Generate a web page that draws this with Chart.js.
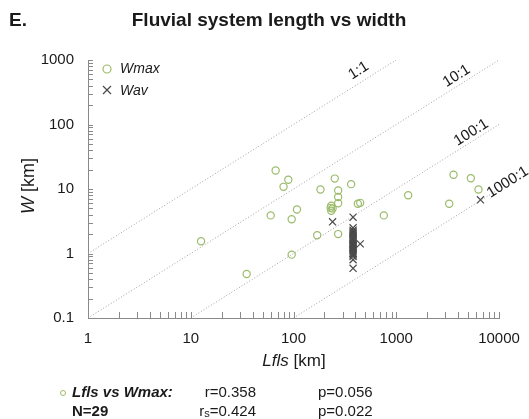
<!DOCTYPE html>
<html>
<head>
<meta charset="utf-8">
<script src="https://cdn.jsdelivr.net/npm/chart.js@4/dist/chart.umd.min.js"></script>
<style>
  html, body { margin: 0; padding: 0; background: #fff; }
  canvas { display: block; }
</style>
</head>
<body>
<canvas id="chart" width="529" height="419"></canvas>
<script>
// Lfls vs Wmax (circles)
const lengthWmax = [12.6, 35, 60, 67, 80, 89, 96, 96, 108, 170, 183, 233, 230, 240, 233, 252, 272, 272, 272, 272, 364, 423, 446, 757, 1307, 3275, 3608, 5320, 6315];
const widthWmax  = [1.55, 0.48, 3.9, 19.4, 10.8, 13.9, 3.4, 0.96, 4.8, 1.92, 9.8, 5.5, 5.1, 5.0, 4.6, 14.5, 9.5, 7.5, 6.0, 2.0, 11.9, 5.9, 6.1, 3.9, 8.0, 5.9, 16.6, 14.7, 9.8];

// Lfls vs Wav (crosses)
const lengthWav = [240, 446, 6600, 380, 380, 380, 380, 380, 380, 380, 380, 380, 380, 380, 380, 380, 380, 380, 380, 380, 380, 380, 380, 380, 380, 380, 380, 380, 380];
const widthWav  = [3.1, 1.41, 6.8, 3.65, 2.5, 2.3, 2.2, 2.1, 2.0, 1.9, 1.8, 1.7, 1.65, 1.6, 1.5, 1.45, 1.4, 1.35, 1.3, 1.25, 1.2, 1.15, 1.1, 1.05, 1.0, 0.95, 0.9, 0.8, 0.59];

// ratio reference lines L:W
const ratioNames = ['1:1', '10:1', '100:1', '1000:1'];
const ratioValues = [1, 10, 100, 1000];
const ratioStartL = [1, 1, 10, 100];
const ratioEndL = [1000, 10000, 10000, 10000];

const xTicks = [1, 10, 100, 1000, 10000];
const xTickLabels = ['1', '10', '100', '1000', '10000'];
const yTicks = [0.1, 1, 10, 100, 1000];
const yTickLabels = ['0.1', '1', '10', '100', '1000'];

const FONT = '"Liberation Sans", Arial, sans-serif';
const GREEN = '#9bbb6b';
const CROSS = '#4a4a4a';
const AXIS = '#8a8a8a';

function toPoints(xs, ys) {
  return xs.map((x, i) => ({ x: x, y: ys[i] }));
}

const ratioSets = ratioValues.map((r, i) => ({
  label: ratioNames[i],
  data: [
    { x: ratioStartL[i], y: ratioStartL[i] / r },
    { x: ratioEndL[i], y: ratioEndL[i] / r }
  ],
  showLine: true,
  borderColor: '#a0a0a0',
  borderWidth: 1,
  borderDash: [1, 2],
  pointRadius: 0
}));

// write text made of several styled pieces
function drawParts(c, parts, x, y, align) {
  let total = 0;
  parts.forEach(p => { c.font = p.f; total += c.measureText(p.t).width; });
  let cx = align === 'right' ? x - total : align === 'center' ? x - total / 2 : x;
  parts.forEach(p => {
    c.font = p.f;
    c.fillText(p.t, cx, y + (p.dy || 0));
    cx += c.measureText(p.t).width;
  });
}

const decor = {
  id: 'decor',
  afterDraw(chart) {
    const c = chart.ctx;
    const xs = chart.scales.x, ys = chart.scales.y, a = chart.chartArea;
    c.save();

    // inner tick marks
    c.strokeStyle = AXIS;
    c.lineWidth = 1;
    c.beginPath();
    for (let d = 0; d < xTicks.length - 1; d++) {
      for (let m = 1; m <= 10; m++) {
        const px = Math.round(xs.getPixelForValue(xTicks[d] * m)) + 0.5;
        c.moveTo(px, a.bottom);
        c.lineTo(px, a.bottom - 6);
      }
    }
    for (let d = 0; d < yTicks.length - 1; d++) {
      for (let m = 1; m <= 10; m++) {
        const py = Math.round(ys.getPixelForValue(yTicks[d] * m)) + 0.5;
        c.moveTo(a.left, py);
        c.lineTo(a.left + 5, py);
      }
    }
    c.stroke();

    c.fillStyle = '#1a1a1a';
    c.textBaseline = 'middle';

    // heading
    c.textAlign = 'left';
    c.font = 'bold 19px ' + FONT;
    c.fillText('E.', 9, 21);
    c.textAlign = 'center';
    c.fillText('Fluvial system length vs width', 269, 21);

    // ratio labels along the lines
    const ang = Math.atan2(ys.getPixelForValue(1) - ys.getPixelForValue(10), xs.getPixelForValue(10) - xs.getPixelForValue(1));
    const anchorsL = [490, 4300, 5900, 12300];
    const offsets = [11, 9, 8, 1];
    c.font = '15px ' + FONT;
    ratioValues.forEach((r, i) => {
      const px = xs.getPixelForValue(anchorsL[i]);
      const py = ys.getPixelForValue(anchorsL[i] / r);
      c.save();
      c.translate(px, py);
      c.rotate(-ang);
      c.textAlign = 'center';
      c.fillText(ratioNames[i], 0, -offsets[i]);
      c.restore();
    });

    // legend inside plot
    c.textAlign = 'left';
    c.strokeStyle = GREEN;
    c.lineWidth = 1.2;
    c.beginPath();
    c.arc(107, 69, 4, 0, Math.PI * 2);
    c.stroke();
    c.strokeStyle = CROSS;
    c.beginPath();
    c.moveTo(103, 86); c.lineTo(111, 94);
    c.moveTo(111, 86); c.lineTo(103, 94);
    c.stroke();
    c.font = 'italic 14px ' + FONT;
    c.fillText('Wmax', 120, 69);
    c.fillText('Wav', 120, 91);

    // axis titles
    c.save();
    c.translate(29, 186);
    c.rotate(-Math.PI / 2);
    drawParts(c, [{ t: 'W', f: 'italic 18px ' + FONT }, { t: ' [km]', f: '18px ' + FONT }], 0, 0, 'center');
    c.restore();
    drawParts(c, [{ t: 'Lfls', f: 'italic 17px ' + FONT }, { t: ' [km]', f: '17px ' + FONT }], 294, 361, 'center');

    // stats text
    c.strokeStyle = GREEN;
    c.lineWidth = 1;
    c.beginPath();
    c.arc(63, 393, 2.5, 0, Math.PI * 2);
    c.stroke();
    c.font = 'bold italic 15px ' + FONT;
    c.fillText('Lfls vs Wmax:', 72, 393);
    c.font = 'bold 15px ' + FONT;
    c.fillText('N=29', 72, 412);
    c.font = '15px ' + FONT;
    c.textAlign = 'right';
    c.fillText('r=0.358', 256, 393);
    c.textAlign = 'left';
    drawParts(c, [{ t: 'r', f: '15px ' + FONT }, { t: 's', f: '11px ' + FONT, dy: 2 }, { t: '=0.424', f: '15px ' + FONT }], 256, 412, 'right');
    c.font = '15px ' + FONT;
    c.fillText('p=0.056', 318, 393);
    c.fillText('p=0.022', 318, 412);

    c.restore();
  }
};

new Chart(document.getElementById('chart').getContext('2d'), {
  type: 'scatter',
  data: {
    datasets: ratioSets.concat([
      {
        label: 'Wmax',
        data: toPoints(lengthWmax, widthWmax),
        pointStyle: 'circle',
        pointRadius: 3.6,
        borderColor: GREEN,
        backgroundColor: 'rgba(0,0,0,0)',
        borderWidth: 1.2
      },
      {
        label: 'Wav',
        data: toPoints(lengthWav, widthWav),
        pointStyle: 'crossRot',
        pointRadius: 5,
        borderColor: CROSS,
        backgroundColor: CROSS,
        borderWidth: 1.2
      }
    ])
  },
  options: {
    responsive: false,
    animation: false,
    layout: { padding: { top: 60, right: 30, left: 0, bottom: 0 } },
    plugins: { legend: { display: false }, tooltip: { enabled: false } },
    scales: {
      x: {
        type: 'logarithmic',
        min: 1,
        max: 10000,
        afterBuildTicks: s => { s.ticks = xTicks.map(v => ({ value: v })); },
        afterFit: s => { s.height = 101; },
        grid: { display: false },
        border: { color: AXIS, width: 1 },
        ticks: {
          font: { family: FONT, size: 15 },
          color: '#1a1a1a',
          padding: 4,
          maxRotation: 0,
          autoSkip: false,
          callback: (v, i) => xTickLabels[i]
        }
      },
      y: {
        type: 'logarithmic',
        min: 0.1,
        max: 1000,
        afterBuildTicks: s => { s.ticks = yTicks.map(v => ({ value: v })); },
        afterFit: s => { s.width = 88; },
        grid: { display: false },
        border: { color: AXIS, width: 1 },
        ticks: {
          font: { family: FONT, size: 15 },
          color: '#1a1a1a',
          padding: 6,
          autoSkip: false,
          callback: (v, i) => yTickLabels[i]
        }
      }
    }
  },
  plugins: [decor]
});
</script>
</body>
</html>
